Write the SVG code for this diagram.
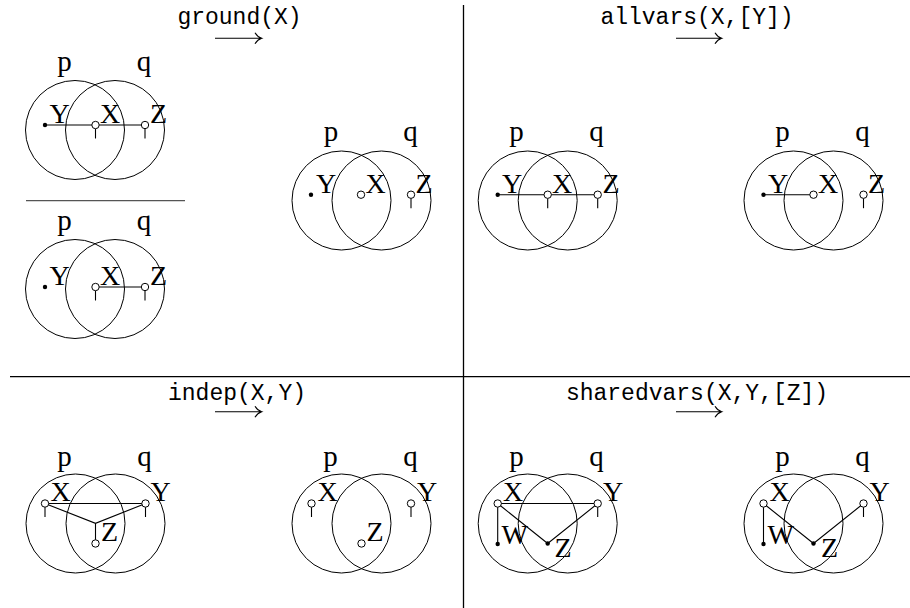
<svg xmlns="http://www.w3.org/2000/svg" width="910" height="608" viewBox="0 0 910 608">
<style>
.set{fill:none;stroke:#000;stroke-width:1}
.edge{fill:none;stroke:#000;stroke-width:1.1}
.open{fill:#fff;stroke:#000;stroke-width:1}
.dot{fill:#000}
.lbl{font-family:"Liberation Serif","Times New Roman",serif;font-size:28px;fill:#000}
.pq{font-family:"Liberation Serif","Times New Roman",serif;font-size:29px;fill:#000;text-anchor:middle}
.ttl{font-family:"Liberation Mono","Courier New",monospace;font-size:23px;fill:#000;text-anchor:middle}
.rule{stroke:#000;stroke-width:1.3}
.frac{stroke:#555;stroke-width:1.3}
.arr{fill:none;stroke:#000;stroke-width:1.1}
</style>
<rect width="910" height="608" fill="#fff"/>
<g id="frame">
<line class="rule" x1="463.5" y1="5" x2="463.5" y2="608"/>
<line class="rule" x1="10" y1="376.7" x2="910" y2="376.7"/>
<line class="frac" x1="26" y1="200.7" x2="185" y2="200.7"/>
</g>
<g id="titles">
<text class="ttl" x="239.5" y="24">ground(X)</text>
<path class="arr" d="M215,38.3 H261.7 M255,32.8 Q257.5,37 261.7,38.3 Q257.5,39.6 255,43.8"/>
<text class="ttl" x="697" y="24">allvars(X,[Y])</text>
<path class="arr" d="M676,38.3 H721.7 M715,32.8 Q717.5,37 721.7,38.3 Q717.5,39.6 715,43.8"/>
<text class="ttl" x="237" y="400">indep(X,Y)</text>
<path class="arr" d="M215,411.7 H261.7 M255,406.2 Q257.5,410.4 261.7,411.7 Q257.5,413 255,417.2"/>
<text class="ttl" x="697" y="400">sharedvars(X,Y,[Z])</text>
<path class="arr" d="M676,411.7 H721.7 M715,406.2 Q717.5,410.4 721.7,411.7 Q717.5,413 715,417.2"/>
</g>
<g id="sets">
<circle class="set" cx="75" cy="130" r="49.5"/><circle class="set" cx="115" cy="130" r="49.5"/>
<circle class="set" cx="75" cy="289" r="49.5"/><circle class="set" cx="115" cy="289" r="49.5"/>
<circle class="set" cx="341.5" cy="200.5" r="49.5"/><circle class="set" cx="381.5" cy="200.5" r="49.5"/>
<circle class="set" cx="527.7" cy="200.5" r="49.5"/><circle class="set" cx="567.7" cy="200.5" r="49.5"/>
<circle class="set" cx="793.5" cy="200.5" r="49.5"/><circle class="set" cx="833.5" cy="200.5" r="49.5"/>
<circle class="set" cx="75.5" cy="523.5" r="49.5"/><circle class="set" cx="115.5" cy="523.5" r="49.5"/>
<circle class="set" cx="341.5" cy="523.5" r="49.5"/><circle class="set" cx="381.5" cy="523.5" r="49.5"/>
<circle class="set" cx="527.7" cy="523.5" r="49.5"/><circle class="set" cx="567.7" cy="523.5" r="49.5"/>
<circle class="set" cx="793.5" cy="523.5" r="49.5"/><circle class="set" cx="833.5" cy="523.5" r="49.5"/>
</g>
<g id="connectors">
<line class="edge" x1="45" y1="125" x2="145" y2="125"/>
<line class="edge" x1="95.5" y1="128.5" x2="95.5" y2="138.5"/>
<line class="edge" x1="145" y1="128.5" x2="145" y2="138.5"/>
<line class="edge" x1="95.5" y1="287" x2="145" y2="287"/>
<line class="edge" x1="95.5" y1="290.5" x2="95.5" y2="300.5"/>
<line class="edge" x1="145" y1="290.5" x2="145" y2="300.5"/>
<line class="edge" x1="411" y1="198.2" x2="411" y2="208.2"/>
<line class="edge" x1="497.7" y1="194.7" x2="597.7" y2="194.7"/>
<line class="edge" x1="547.7" y1="198.2" x2="547.7" y2="208.2"/>
<line class="edge" x1="597.7" y1="198.2" x2="597.7" y2="208.2"/>
<line class="edge" x1="763.5" y1="194.7" x2="813.5" y2="194.7"/>
<line class="edge" x1="863.5" y1="198.2" x2="863.5" y2="208.2"/>
<line class="edge" x1="45" y1="503.5" x2="145.5" y2="503.5"/>
<polyline class="edge" points="45,503.5 95.5,523.3 145.5,503.5"/>
<line class="edge" x1="95.5" y1="523.3" x2="95.5" y2="543.5"/>
<line class="edge" x1="45" y1="507" x2="45" y2="517"/>
<line class="edge" x1="145.5" y1="507" x2="145.5" y2="517"/>
<line class="edge" x1="311.5" y1="507" x2="311.5" y2="517"/>
<line class="edge" x1="411" y1="507" x2="411" y2="517"/>
<line class="edge" x1="497.7" y1="503.5" x2="597.7" y2="503.5"/>
<line class="edge" x1="497.7" y1="503.5" x2="497.7" y2="544"/>
<polyline class="edge" points="497.7,503.5 547.7,543.5 597.7,503.5"/>
<line class="edge" x1="597.7" y1="507" x2="597.7" y2="517"/>
<line class="edge" x1="763.5" y1="503.5" x2="763.5" y2="544"/>
<polyline class="edge" points="763.5,503.5 813.5,543.5 863.5,503.5"/>
<line class="edge" x1="863.5" y1="507" x2="863.5" y2="517"/>
</g>
<g id="nodes">
<g id="p1a"><circle class="dot" cx="45" cy="125" r="2.2"/><circle class="open" cx="95.5" cy="125" r="3.7"/><circle class="open" cx="145" cy="125" r="3.7"/></g>
<g id="p1b"><circle class="dot" cx="45" cy="287" r="2.2"/><circle class="open" cx="95.5" cy="287" r="3.7"/><circle class="open" cx="145" cy="287" r="3.7"/></g>
<g id="p1c"><circle class="dot" cx="311" cy="194.7" r="2.2"/><circle class="open" cx="361" cy="194.7" r="3.7"/><circle class="open" cx="411" cy="194.7" r="3.7"/></g>
<g id="p2a"><circle class="dot" cx="497.7" cy="194.7" r="2.2"/><circle class="open" cx="547.7" cy="194.7" r="3.7"/><circle class="open" cx="597.7" cy="194.7" r="3.7"/></g>
<g id="p2b"><circle class="dot" cx="763.5" cy="194.7" r="2.2"/><circle class="open" cx="813.5" cy="194.7" r="3.7"/><circle class="open" cx="863.5" cy="194.7" r="3.7"/></g>
<g id="p3a"><circle class="open" cx="45" cy="503.5" r="3.7"/><circle class="open" cx="145.5" cy="503.5" r="3.7"/><circle class="open" cx="95.5" cy="543.5" r="3.7"/></g>
<g id="p3b"><circle class="open" cx="311.5" cy="503.5" r="3.7"/><circle class="open" cx="411" cy="503.5" r="3.7"/><circle class="open" cx="361.5" cy="543.5" r="3.7"/></g>
<g id="p4a"><circle class="open" cx="497.7" cy="503.5" r="3.7"/><circle class="open" cx="597.7" cy="503.5" r="3.7"/><circle class="dot" cx="497.7" cy="544" r="2.2"/><circle class="dot" cx="547.7" cy="543.5" r="2.2"/></g>
<g id="p4b"><circle class="open" cx="763.5" cy="503.5" r="3.7"/><circle class="open" cx="863.5" cy="503.5" r="3.7"/><circle class="dot" cx="763.5" cy="544" r="2.2"/><circle class="dot" cx="813.5" cy="543.5" r="2.2"/></g>
</g>
<g id="labels">
<text class="pq" x="64.5" y="71">p</text><text class="pq" x="144" y="71">q</text>
<text class="lbl" x="49.5" y="122.5">Y</text><text class="lbl" x="100" y="122.5">X</text><text class="lbl" x="150" y="122.5">Z</text>
<text class="pq" x="64.5" y="230">p</text><text class="pq" x="144" y="230">q</text>
<text class="lbl" x="49.5" y="284.5">Y</text><text class="lbl" x="100" y="284.5">X</text><text class="lbl" x="150" y="284.5">Z</text>
<text class="pq" x="331" y="141">p</text><text class="pq" x="410.5" y="141">q</text>
<text class="lbl" x="316" y="192.5">Y</text><text class="lbl" x="365.5" y="192.5">X</text><text class="lbl" x="415.5" y="192.5">Z</text>
<text class="pq" x="516.5" y="141">p</text><text class="pq" x="596.5" y="141">q</text>
<text class="lbl" x="502" y="192.5">Y</text><text class="lbl" x="552" y="192.5">X</text><text class="lbl" x="602.5" y="192.5">Z</text>
<text class="pq" x="782.5" y="141">p</text><text class="pq" x="862.5" y="141">q</text>
<text class="lbl" x="768" y="192.5">Y</text><text class="lbl" x="818" y="192.5">X</text><text class="lbl" x="868" y="192.5">Z</text>
<text class="pq" x="64.5" y="466">p</text><text class="pq" x="144.5" y="466">q</text>
<text class="lbl" x="50.5" y="500.5">X</text><text class="lbl" x="150.5" y="500.5">Y</text><text class="lbl" x="101" y="541">Z</text>
<text class="pq" x="330.5" y="466">p</text><text class="pq" x="410.5" y="466">q</text>
<text class="lbl" x="317.5" y="500.5">X</text><text class="lbl" x="417" y="500.5">Y</text><text class="lbl" x="366.5" y="541">Z</text>
<text class="pq" x="516.5" y="466">p</text><text class="pq" x="596.5" y="466">q</text>
<text class="lbl" x="503" y="500.5">X</text><text class="lbl" x="603" y="500.5">Y</text><text class="lbl" x="501.5" y="543.5">W</text><text class="lbl" x="554.5" y="557">Z</text>
<text class="pq" x="782.5" y="466">p</text><text class="pq" x="862.5" y="466">q</text>
<text class="lbl" x="769.5" y="500.5">X</text><text class="lbl" x="869.5" y="500.5">Y</text><text class="lbl" x="767.5" y="543.5">W</text><text class="lbl" x="821" y="557">Z</text>
</g>
</svg>
